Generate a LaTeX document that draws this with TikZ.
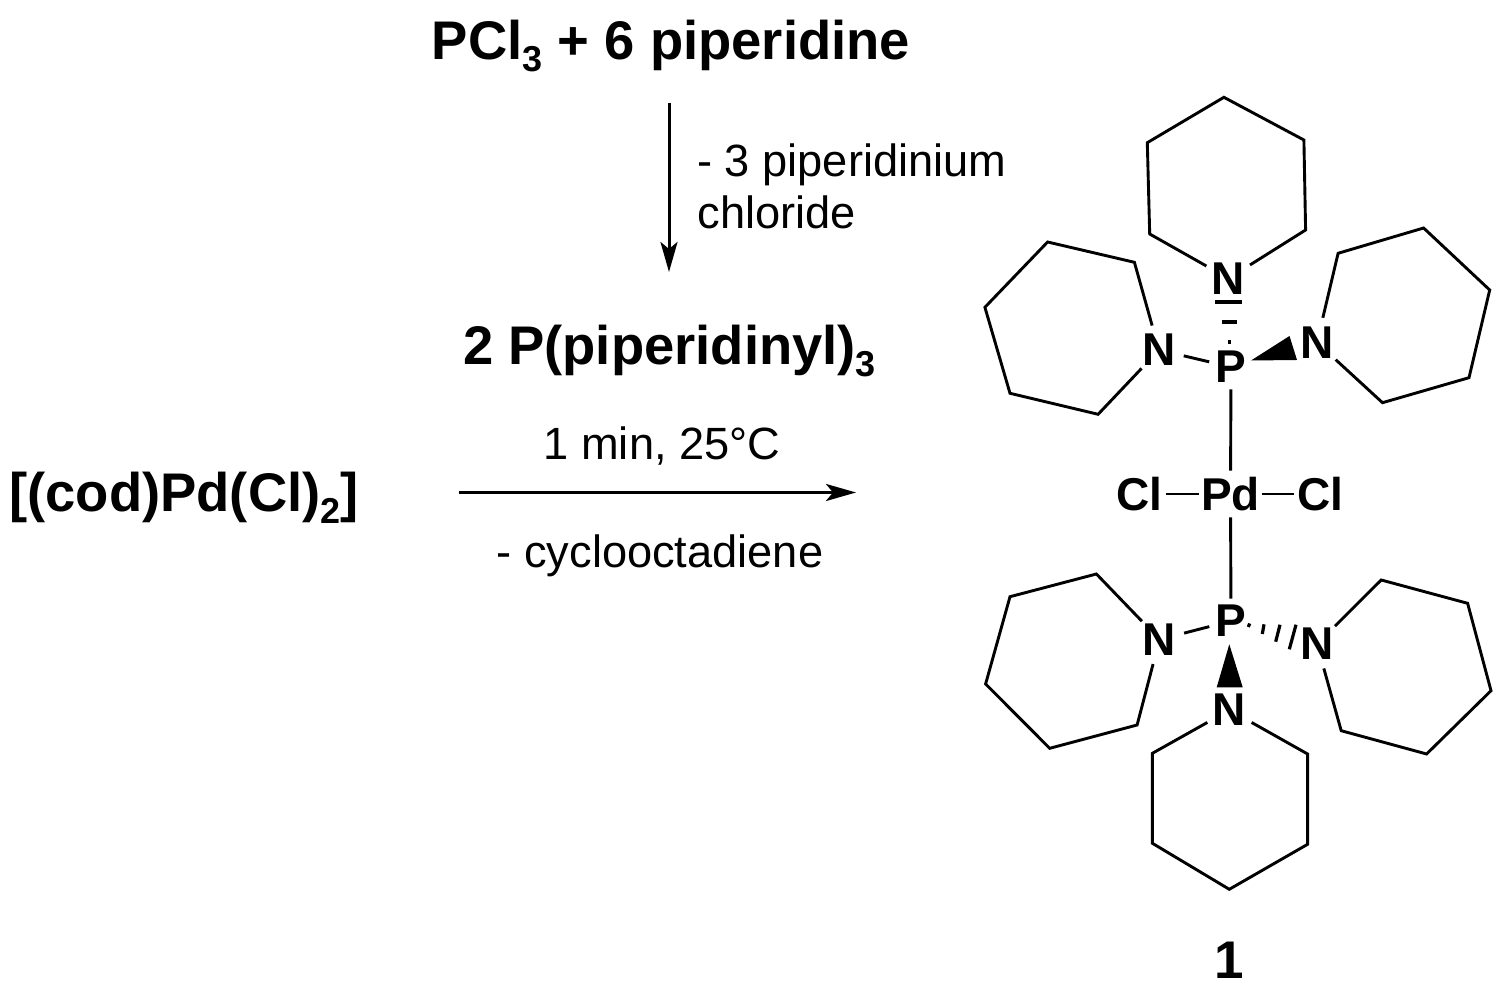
\documentclass[tikz,border=0pt]{standalone}
\usepackage{fontspec}
\setmainfont{Liberation Sans}
\usetikzlibrary{arrows.meta}

\providecommand*{\lowNum}{}
\renewcommand*{\lowNum}[1]{\raisebox{-0.22em}{\fontsize{18}{18}\selectfont #1}}

\tikzset{
  bond/.style={line width=1.45pt,line join=miter},
  tick/.style={line width=1.6pt},
  wedge/.style={fill=black,draw=none},
  rxn/.style={line width=1.5pt,-{Stealth[length=15pt,width=8.5pt,inset=3.5pt]}},
  title/.style={font=\fontsize{27.2}{27.2}\selectfont\bfseries,anchor=base,inner sep=0pt},
  cond/.style={font=\fontsize{22.6}{22.6}\selectfont,anchor=base,inner sep=0pt},
  atomN/.style={font=\fontsize{23}{23}\selectfont\bfseries,circle,inner sep=0pt,minimum size=25pt},
  atomP/.style={font=\fontsize{23}{23}\selectfont\bfseries,circle,inner sep=0pt,minimum size=21.5pt},
  atomPd/.style={font=\fontsize{23}{23}\selectfont\bfseries,inner sep=0pt,minimum width=31pt,minimum height=23pt},
  atomCl/.style={font=\fontsize{23}{23}\selectfont\bfseries,inner sep=0pt,minimum width=26pt,minimum height=23pt}
}

\begin{document}
\begin{tikzpicture}[x=0.5pt,y=-0.5pt]
  \useasboundingbox (0,0) rectangle (1500,1004);

%left part
  \node [title] (reagent) at (671,60) {PCl\lowNum{3} + 6 piperidine};
  \node [title] (ligand) at (669.5,365) {2 P(piperidinyl)\lowNum{3}};
  \node [title] (precursor) at (184,512) {[(cod)Pd(Cl)\lowNum{2}]};
  \node [cond,anchor=base west] (lossA) at (697,177) {- 3 piperidinium};
  \node [cond,anchor=base west] (lossB) at (697,229) {chloride};
  \node [cond] (conditions) at (662,460) {1 min, 25°C};
  \node [cond] (lossC) at (660,568) {- cyclooctadiene};

  \coordinate (downStart) at (669,103);
  \coordinate (downEnd) at (669,272);
  \coordinate (rightStart) at (459,492.5);
  \coordinate (rightEnd) at (856,492.5);
  \draw [rxn] (downStart) -- (downEnd);
  \draw [rxn] (rightStart) -- (rightEnd);

%centre
  \node [atomPd] (pd) at (1230.5,494) {Pd};
  \node [atomCl] (clLeft) at (1139.5,494) {Cl};
  \node [atomCl] (clRight) at (1320,494) {Cl};
  \node [atomP] (pUp) at (1231,367) {P};
  \node [atomP] (pDown) at (1231,621) {P};
  \draw [bond] (clLeft) -- (pd);
  \draw [bond] (pd) -- (clRight);
  \draw [bond] (pUp) -- (pd);
  \draw [bond] (pd) -- (pDown);

%upper phosphine
  \node [atomN] (nUpTop) at (1228.5,278.5) {N};
  \node [atomN] (nUpLeft) at (1159,350) {N};
  \node [atomN] (nUpRight) at (1317,342.5) {N};
  \draw [bond] (nUpLeft) -- (pUp);
%h
  \draw [tick] (1215,302) -- (1241.7,302);
  \draw [tick] (1221.7,322) -- (1236.7,322);
  \draw [tick] (1227.5,342) -- (1231,342);
%wedge
  \fill [wedge] (1251,360.5) -- (1289.5,336) -- (1297,360) -- cycle;
%rings
  \draw [bond] (nUpTop) -- (1149.7,234) -- (1147.3,142.7) -- (1223.9,97.3)
    -- (1303.9,140) -- (1305.6,230) -- (nUpTop);
  \draw [bond] (nUpLeft) -- (1134.4,262.3) -- (1047.6,242) -- (984.9,307.3)
    -- (1010,393.3) -- (1098.1,414.3) -- (nUpLeft);
  \draw [bond] (nUpRight) -- (1338.1,253.3) -- (1423.6,228) -- (1489.7,290)
    -- (1469,377.7) -- (1382.5,402.7) -- (nUpRight);

%lower phosphine
  \node [atomN] (nDownLeft) at (1159.5,639.5) {N};
  \node [atomN] (nDownRight) at (1317,644) {N};
  \node [atomN] (nDownBottom) at (1229.5,710) {N};
  \draw [bond] (nDownLeft) -- (pDown);
%hash
  \draw [tick] (1249.7,623.5) -- (1248.3,627);
  \draw [tick] (1264,624.3) -- (1262.3,634);
  \draw [tick] (1280,624.7) -- (1275.7,641.7);
  \draw [tick] (1296,624.7) -- (1289.3,649.3);
%wedge
  \fill [wedge] (1229.3,644.3) -- (1216.7,687.3) -- (1242.7,687.3) -- cycle;
%rings
  \draw [bond] (nDownLeft) -- (1096.4,574) -- (1010,596.7) -- (985.6,684)
    -- (1049.7,748.3) -- (1137.1,725) -- (nDownLeft);
  \draw [bond] (nDownRight) -- (1381.2,580) -- (1467.6,603.3) -- (1491,690.7)
    -- (1426.6,754) -- (1341.2,730.7) -- (nDownRight);
  \draw [bond] (nDownBottom) -- (1152.4,753.3) -- (1152.4,843.3) -- (1229.3,889.3)
    -- (1307.6,844.3) -- (1307.6,754) -- (nDownBottom);

  \node [font=\fontsize{26.5}{26.5}\selectfont\bfseries,inner sep=0pt] (label) at (1229.5,960) {1};
\end{tikzpicture}
\end{document}
